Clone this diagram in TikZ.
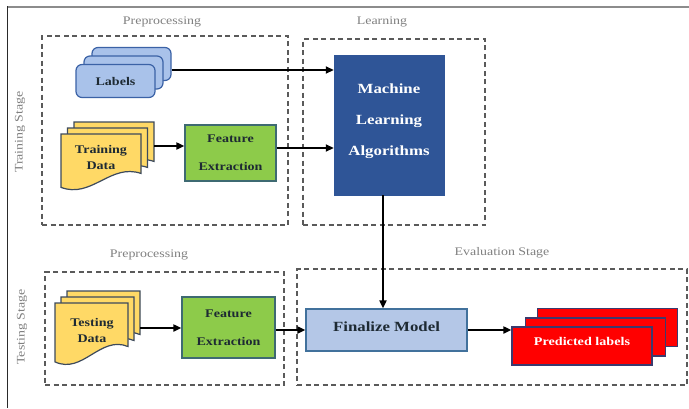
\documentclass[tikz,border=0pt]{standalone}
\usepackage{fontspec}
\setmainfont{Liberation Serif}[FakeStretch=1.2]
\usetikzlibrary{arrows.meta,calc}

\definecolor{stagegray}{HTML}{808080}
\definecolor{dashgray}{HTML}{5A5A5A}
\definecolor{framegray}{HTML}{8C8C8C}
\definecolor{frameblack}{HTML}{2A2A2A}
\definecolor{labelfill}{HTML}{A9C2EA}
\definecolor{labeldraw}{HTML}{3B62A6}
\definecolor{docfill}{HTML}{FFD966}
\definecolor{docdraw}{HTML}{3D4A5C}
\definecolor{featfill}{HTML}{8DCB4A}
\definecolor{featdraw}{HTML}{3E6A72}
\definecolor{mlfill}{HTML}{2F5597}
\definecolor{finfill}{HTML}{B4C7E7}
\definecolor{findraw}{HTML}{41719C}
\definecolor{predfill}{HTML}{FF0000}
\definecolor{preddraw}{HTML}{3B3A6E}
\definecolor{inkdark}{HTML}{1E2A33}

\tikzset{
  stagebox/.style={draw=dashgray, line width=1.2pt, dash pattern=on 5pt off 3.5pt, inner sep=0pt},
  stagelabel/.style={text=stagegray, font=\fontsize{11.6}{14}\selectfont, inner sep=0pt},
  flow/.style={-{Triangle[length=8pt,width=7pt]}, line width=1.8pt, black},
  labelcard/.style={draw=labeldraw, fill=labelfill, line width=1.2pt, rounded corners=6pt,
    minimum width=79pt, minimum height=33pt, inner sep=0pt},
  docsheet/.style={draw=docdraw, fill=docfill, line width=1.2pt},
  docarea/.style={inner sep=0pt},
  featbox/.style={draw=featdraw, fill=featfill, line width=1.2pt, inner sep=0pt, align=center,
    text=inkdark, font=\bfseries\fontsize{11.7}{28}\selectfont},
  boldtext/.style={text=inkdark, font=\bfseries\fontsize{11.7}{16}\selectfont, align=center, inner sep=0pt},
  mlbox/.style={fill=mlfill, draw=mlfill, inner sep=0pt, align=center, text=white,
    font=\bfseries\fontsize{14}{31}\selectfont, text depth=10pt},
  finbox/.style={draw=findraw, fill=finfill, line width=1.2pt, inner sep=0pt,
    text=inkdark, font=\bfseries\fontsize{14}{16}\selectfont, text depth=6pt},
  predcard/.style={draw=preddraw, fill=predfill, line width=1.2pt, inner sep=0pt,
    minimum width=140pt, minimum height=38pt, text=white, font=\bfseries\fontsize{11.8}{14}\selectfont},
  pics/docsheet/.style 2 args={code={
    \draw[docsheet] (0,0) -- (#1,0) -- (#1,0.68*#2)
      .. controls (0.62*#1,0.5*#2) and (0.38*#1,1.12*#2) .. (0,0.92*#2) -- cycle;
  }},
}

\begin{document}
\begin{tikzpicture}[x=1pt,y=-1pt]
\useasboundingbox (0,0) rectangle (689,408);
\fill[white] (0,0) rectangle (689,408);

% frame edges
\draw[framegray, line width=2pt] (7,6.5) -- (689,6.5);
\draw[frameblack, line width=1.4pt] (7.5,6) -- (7.5,408);

% stage frames
\node[stagebox, minimum width=246pt, minimum height=189pt] (pretrain) at (165,130.5) {};
\node[stagebox, minimum width=182pt, minimum height=186pt] (learn) at (394,132) {};
\node[stagebox, minimum width=239pt, minimum height=113pt] (pretest) at (164.5,328.5) {};
\node[stagebox, minimum width=390pt, minimum height=116pt] (evalbox) at (492,327) {};

% stage titles
\node[stagelabel] (t1) at (162,22) {Preprocessing};
\node[stagelabel] (t2) at (382,22) {Learning};
\node[stagelabel] (t3) at (149,255) {Preprocessing};
\node[stagelabel] (t4) at (502,253) {Evaluation Stage};
\node[stagelabel, rotate=90] (t5) at (20,132) {Training Stage};
\node[stagelabel, rotate=90] (t6) at (22,327) {Testing Stage};

% label cards
\node[labelcard] (lab3) at (131.5,64) {};
\node[labelcard] (lab2) at (123.5,72.5) {};
\node[labelcard, text=inkdark, font=\bfseries\fontsize{11.7}{14}\selectfont] (lab1) at (115.5,81) {Labels};

% training data sheets
\pic at (74,122) {docsheet={80}{58}};
\node[docarea, minimum width=80pt, minimum height=50pt] (tdb) at (114,147) {};
\pic at (67.5,128) {docsheet={80}{58}};
\pic at (61,134) {docsheet={80}{58}};
\node[boldtext] (td) at (101,157) {Training\\Data};

% training feature extraction
\node[featbox, minimum width=91pt, minimum height=56pt] (fe1) at (230.5,153) {Feature\\Extraction};

% learning block
\node[mlbox, minimum width=110pt, minimum height=140pt] (ml) at (389,125) {Machine\\Learning\\Algorithms};

% testing data sheets
\pic at (67,291) {docsheet={73}{64}};
\node[docarea, minimum width=73pt, minimum height=50pt] (tsb) at (103.5,316) {};
\pic at (61,297) {docsheet={73}{64}};
\pic at (55,303) {docsheet={73}{64}};
\node[boldtext] (ts) at (92,330) {Testing\\Data};

% testing feature extraction
\node[featbox, minimum width=93pt, minimum height=61pt] (fe2) at (228.5,327.5) {Feature\\Extraction};

% evaluation
\node[finbox, minimum width=161pt, minimum height=42pt] (fin) at (386.5,330) {Finalize Model};
\node[predcard] (pl3) at (607.5,327.5) {};
\node[predcard] (pl2) at (595.5,337) {};
\node[predcard, text depth=10pt] (pl1) at (582,346) {Predicted labels};

% connectors
\draw[flow] ([yshift=-6pt]lab3.east) -- ([yshift=-6pt]lab3.east -| ml.west);
\draw[flow] ([yshift=1pt]tdb.east) -- ([yshift=1pt]tdb.east -| fe1.west);
\draw[flow] ([yshift=5pt]fe1.east) -- ([yshift=5pt]fe1.east -| ml.west);
\draw[flow] ([xshift=-6pt]ml.south) -- ([xshift=-6pt]ml.south |- fin.north);
\draw[flow] ([yshift=-12pt]tsb.east) -- ([yshift=-12pt]tsb.east -| fe2.west);
\draw[flow] (fe2.east |- fin.west) -- (fin.west);
\draw[flow] (fin.east) -- (fin.east -| pl1.west);
\end{tikzpicture}
\end{document}
